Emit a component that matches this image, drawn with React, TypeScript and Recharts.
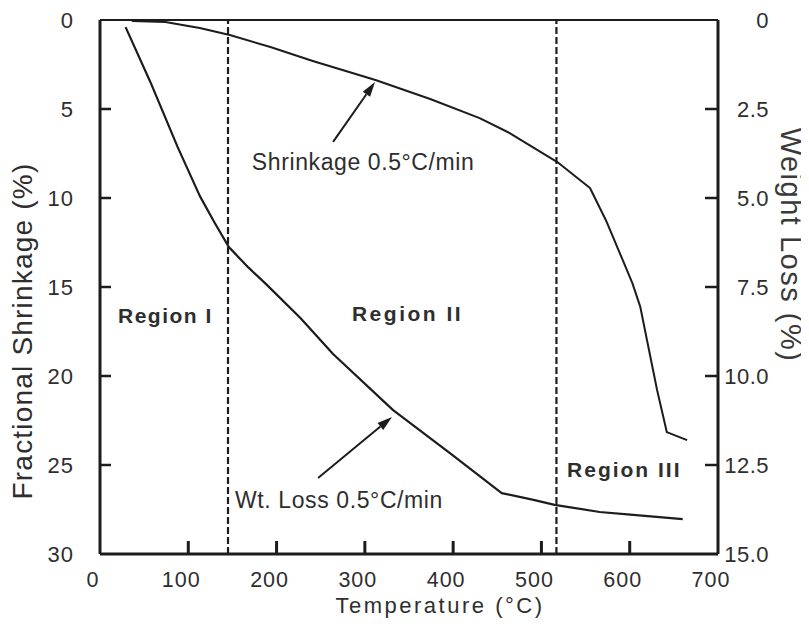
import React from 'react';
import { LineChart, Line, XAxis, YAxis, ReferenceLine, ReferenceDot } from 'recharts';

// Shrinkage curve (left axis, %)
const shrinkTemp = [36, 74, 113, 147, 193, 241, 312, 374, 430, 464, 518, 555, 574, 592, 603, 612, 620, 631, 642, 665];
const shrinkValue = [0.06, 0.11, 0.45, 0.84, 1.52, 2.3, 3.37, 4.44, 5.51, 6.35, 7.98, 9.44, 11.35, 13.48, 14.78, 16.12, 18.09, 20.79, 23.15, 23.6];

// Weight loss curve (right axis, %)
const lossTemp = [29, 57, 88, 113, 130, 146, 168, 189, 227, 264, 332, 396, 455, 491, 515, 566, 604, 660];
const lossValue = [0.2, 1.74, 3.57, 4.94, 5.7, 6.38, 6.95, 7.44, 8.37, 9.38, 10.96, 12.16, 13.29, 13.48, 13.62, 13.82, 13.9, 14.02];

const tempTicks = [0, 100, 200, 300, 400, 500, 600, 700];
const shrinkTicks = [0, 5, 10, 15, 20, 25, 30];
const lossTicks = [0, 2.5, 5, 7.5, 10, 12.5, 15];
const lossTickLabels = ['0', '2.5', '5.0', '7.5', '10.0', '12.5', '15.0'];
const regionBounds = [145, 517];

const shrinkData = shrinkTemp.map((t, i) => ({ t, v: shrinkValue[i] }));
const lossData = lossTemp.map((t, i) => ({ t, v: lossValue[i] }));

const INK = '#1c1c1c';
const TEXT = '#2e2e2e';
const FONT = '"Liberation Sans", Arial, Helvetica, sans-serif';

const LeftTick = (props: any) => {
  const { x, y, payload } = props;
  const v = payload.value;
  return (
    <g>
      {v > 0 && v < 30 && <line x1={x} y1={y} x2={x + 11} y2={y} stroke={INK} strokeWidth={2.5} />}
      <text x={x - 26} y={y + 8} textAnchor="end" fontSize={22} fill={TEXT} fontFamily={FONT} letterSpacing={1}>
        {v}
      </text>
    </g>
  );
};

const RightTick = (props: any) => {
  const { x, y, payload } = props;
  const v = payload.value;
  const idx = lossTicks.indexOf(v);
  return (
    <g>
      {v > 0 && v < 15 && <line x1={x} y1={y} x2={x - 13} y2={y} stroke={INK} strokeWidth={2.5} />}
      <text x={x + 51} y={y + 8} textAnchor="end" fontSize={22} fill={TEXT} fontFamily={FONT} letterSpacing={0.5}>
        {idx >= 0 ? lossTickLabels[idx] : v}
      </text>
    </g>
  );
};

const BottomTick = (props: any) => {
  const { x, y, payload } = props;
  const v = payload.value;
  return (
    <g>
      {v > 0 && v < 700 && <line x1={x} y1={y} x2={x} y2={y - 13} stroke={INK} strokeWidth={3} />}
      <text x={x - 7} y={y + 33} textAnchor="middle" fontSize={21.5} fill={TEXT} fontFamily={FONT} letterSpacing={1}>
        {v}
      </text>
    </g>
  );
};

const Arrow = (props: any) => {
  const { x1, y1, x2, y2 } = props;
  const ang = Math.atan2(y2 - y1, x2 - x1);
  const L = 15;
  const W = 4.5;
  const bx = x2 - L * Math.cos(ang);
  const by = y2 - L * Math.sin(ang);
  const px = -Math.sin(ang) * W;
  const py = Math.cos(ang) * W;
  return (
    <g>
      <line x1={x1} y1={y1} x2={bx} y2={by} stroke={INK} strokeWidth={2} />
      <polygon points={`${x2},${y2} ${bx + px},${by + py} ${bx - px},${by - py}`} fill={INK} />
    </g>
  );
};

const makeText = (text: string, size: number, bold: boolean, ls: number) => (p: any) => (
  <text
    x={p.cx}
    y={p.cy}
    fontSize={size}
    fontWeight={bold ? 'bold' : 'normal'}
    fill={TEXT}
    fontFamily={FONT}
    letterSpacing={ls}
    textAnchor="start"
  >
    {text}
  </text>
);

export default function App() {
  return (
    <div style={{ width: 801, height: 626, marginTop: -8, marginBottom: -8, overflow: 'visible' }}>
      <LineChart width={801} height={626} margin={{ top: 20, right: 0, bottom: 0, left: 0 }}>
        <XAxis
          dataKey="t"
          type="number"
          domain={[0, 700]}
          ticks={tempTicks}
          allowDataOverflow
          height={72}
          tickSize={0}
          tickMargin={0}
          tickLine={false}
          axisLine={{ stroke: INK, strokeWidth: 3 }}
          tick={<BottomTick />}
          interval={0}
          label={{
            content: (p: any) => {
              const vb = p.viewBox;
              return (
                <text
                  x={vb.x + 340}
                  y={vb.y + 59}
                  textAnchor="middle"
                  fontSize={22}
                  fill={TEXT}
                  fontFamily={FONT}
                  letterSpacing={2.5}
                >
                  Temperature (°C)
                </text>
              );
            },
          }}
        />
        <YAxis
          yAxisId="left"
          orientation="left"
          type="number"
          domain={[0, 30]}
          reversed
          ticks={shrinkTicks}
          allowDataOverflow
          width={92}
          tickSize={0}
          tickMargin={0}
          tickLine={false}
          axisLine={{ stroke: INK, strokeWidth: 3 }}
          tick={<LeftTick />}
          interval={0}
          label={{
            content: (p: any) => {
              const vb = p.viewBox;
              const cx = vb.x + 14;
              const cy = vb.y + vb.height / 2 + 44;
              return (
                <text
                  x={cx}
                  y={cy}
                  transform={`rotate(-90 ${cx} ${cy})`}
                  textAnchor="middle"
                  dominantBaseline="central"
                  fontSize={28}
                  fill={TEXT}
                  fontFamily={FONT}
                  letterSpacing={1.2}
                >
                  Fractional Shrinkage (%)
                </text>
              );
            },
          }}
        />
        <YAxis
          yAxisId="right"
          orientation="right"
          type="number"
          domain={[0, 15]}
          reversed
          ticks={lossTicks}
          allowDataOverflow
          width={91}
          tickSize={0}
          tickMargin={0}
          tickLine={false}
          axisLine={{ stroke: INK, strokeWidth: 3 }}
          tick={<RightTick />}
          interval={0}
          label={{
            content: (p: any) => {
              const vb = p.viewBox;
              const cx = vb.x + 73;
              const cy = vb.y + 225;
              return (
                <text
                  x={cx}
                  y={cy}
                  transform={`rotate(90 ${cx} ${cy})`}
                  textAnchor="middle"
                  dominantBaseline="central"
                  fontSize={29}
                  fill="#3a3a3a"
                  fontFamily={FONT}
                  letterSpacing={1.5}
                >
                  Weight Loss (%)
                </text>
              );
            },
          }}
        />

        <ReferenceLine yAxisId="left" y={0} stroke={INK} strokeWidth={2} />
        {regionBounds.map((b) => (
          <ReferenceLine key={b} yAxisId="left" x={b} stroke={INK} strokeWidth={2.2} strokeDasharray="7 3" />
        ))}

        <Line
          yAxisId="left"
          data={shrinkData}
          dataKey="v"
          type="linear"
          stroke={INK}
          strokeWidth={2}
          strokeLinejoin="round"
          dot={false}
          isAnimationActive={false}
        />
        <Line
          yAxisId="right"
          data={lossData}
          dataKey="v"
          type="linear"
          stroke={INK}
          strokeWidth={2.2}
          strokeLinejoin="round"
          dot={false}
          isAnimationActive={false}
        />

        <ReferenceLine
          yAxisId="left"
          segment={[{ x: 264, y: 6.85 }, { x: 311.5, y: 3.48 }]}
          shape={Arrow}
        />
        <ReferenceLine
          yAxisId="left"
          segment={[{ x: 247, y: 25.73 }, { x: 330.7, y: 22.3 }]}
          shape={Arrow}
        />

        <ReferenceDot yAxisId="left" x={172} y={8.43} r={1} shape={makeText('Shrinkage 0.5°C/min', 23, false, 0.6)} />
        <ReferenceDot yAxisId="left" x={153} y={27.42} r={1} shape={makeText('Wt. Loss 0.5°C/min', 23, false, 0.6)} />
        <ReferenceDot yAxisId="left" x={20.4} y={17.02} r={1} shape={makeText('Region I', 21, true, 1.5)} />
        <ReferenceDot yAxisId="left" x={285.4} y={16.91} r={1} shape={makeText('Region II', 21, true, 2.5)} />
        <ReferenceDot yAxisId="left" x={529} y={25.67} r={1} shape={makeText('Region III', 21, true, 2)} />
      </LineChart>
    </div>
  );
}
